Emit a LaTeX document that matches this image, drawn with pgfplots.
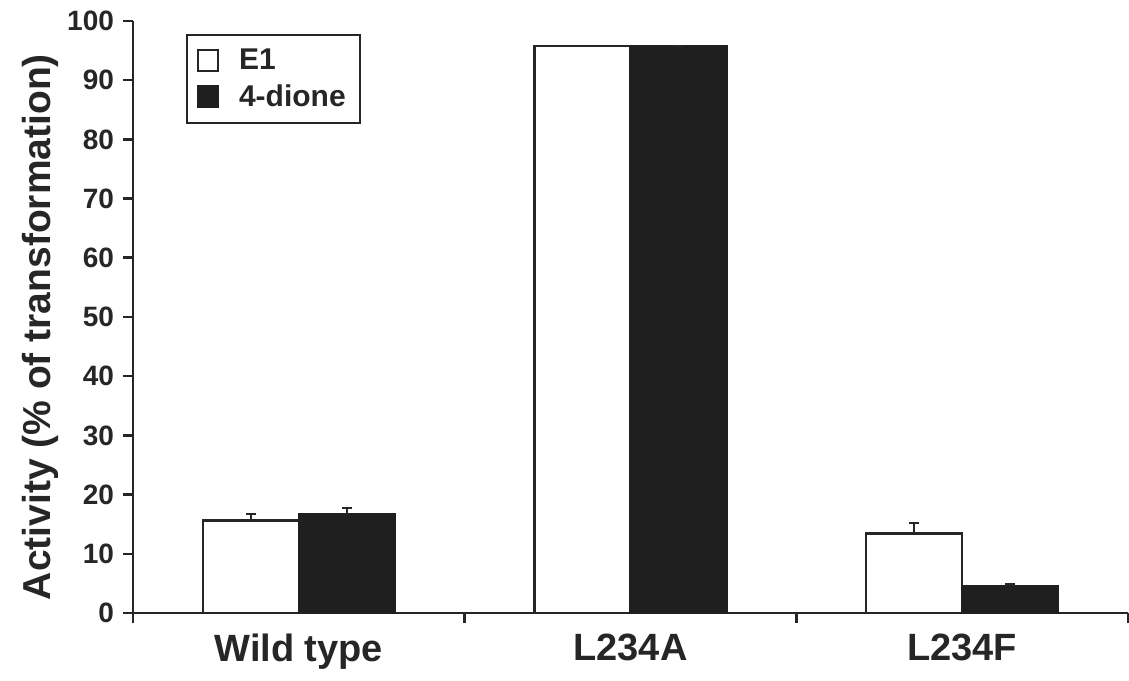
\documentclass[border=0pt]{standalone}
\usepackage{fontspec}
\setmainfont{Liberation Sans}
\usepackage{pgfplots}
\pgfplotsset{compat=1.18}
\definecolor{ink}{gray}{0.15}
\definecolor{barblack}{gray}{0.12}
\begin{document}
\begin{tikzpicture}
\begin{axis}[
  scale only axis,
  width=497.5pt, height=296pt,
  xmin=-0.5, xmax=2.5, ymin=0, ymax=100,
  axis lines*=left,
  axis line style={line width=1.3pt, color=ink},
  ytick={0,10,...,100},
  xtick={0,1,2},
  xticklabels={Wild type, L234A, L234F},
  minor xtick={-0.5,0.5,1.5,2.5},
  major x tick style={draw=none},
  tick align=outside,
  major tick length=5pt, minor tick length=5pt,
  tick style={line width=1.3pt, color=ink},
  /pgf/number format/assume math mode=true,
  yticklabel style={font=\fontsize{14}{16}\selectfont\bfseries, color=ink, xshift=-1pt},
  xticklabel style={font=\fontsize{19}{22}\selectfont\bfseries, color=ink, yshift=-2pt},
  ylabel={Activity (\% of transformation)},
  every axis y label/.style={at={(axis description cs:-0.0935,0.483)}, rotate=90, anchor=center,
     font=\fontsize{19.5}{22}\selectfont\bfseries, color=ink},
  ybar=0pt, bar width=48pt,
  clip=false,
  legend style={at={(axis cs:-0.34,97.8)}, anchor=north west, draw=ink, line width=1pt,
     font=\fontsize{15}{17}\selectfont\bfseries, text=ink, inner xsep=5pt, inner ysep=5pt,
     row sep=2pt,
     /tikz/every odd column/.append style={column sep=8pt}},
  legend cell align=left,
  legend image code/.code={\draw[#1, line width=1pt] (0pt,-5pt) rectangle (10pt,5.5pt);},
]
\addplot[draw=ink, fill=white, line width=1.3pt,
  error bars/.cd, y dir=plus, y explicit,
  error bar style={line width=1.1pt, color=ink},
  error mark options={rotate=90, mark size=2.5pt, line width=1.1pt, color=ink}]
  coordinates {(0,15.6) +- (0,1.1) (1,95.8) +- (0,0) (2,13.4) +- (0,1.8)};
\addplot[draw=barblack, fill=barblack, line width=1.3pt,
  error bars/.cd, y dir=plus, y explicit,
  error bar style={line width=1.1pt, color=ink},
  error mark options={rotate=90, mark size=2.5pt, line width=1.1pt, color=ink}]
  coordinates {(0,16.6) +- (0,1.2) (1,95.8) +- (0,0) (2,4.5) +- (0,0.3)};
\legend{E1\hspace{7pt}, 4-dione\hspace{7pt}}
\end{axis}
\pgfresetboundingbox
\useasboundingbox (-66.5pt,-33.5pt) rectangle (498pt,306.5pt);
\end{tikzpicture}
\end{document}
